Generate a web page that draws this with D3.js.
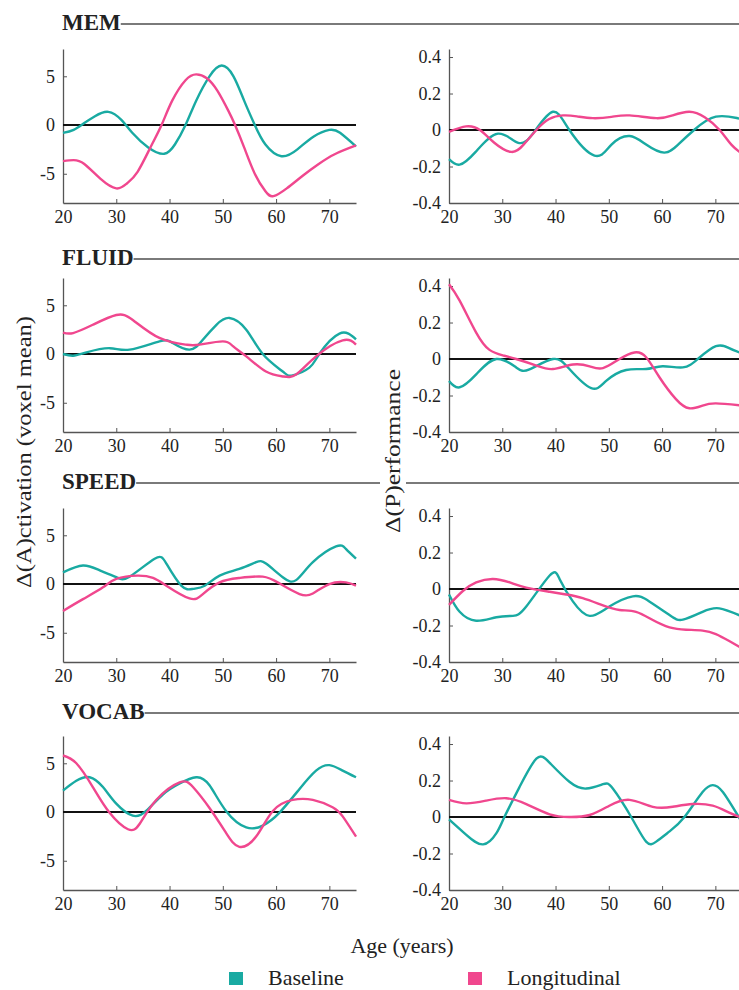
<!DOCTYPE html>
<html>
<head>
<meta charset="utf-8">
<script src="https://cdn.jsdelivr.net/npm/d3@7"></script>
<style>
body { margin: 0; background: #fff; }
svg { display: block; }
text { font-family: "Liberation Serif", "DejaVu Serif", serif; fill: #222; }
</style>
</head>
<body>
<script>
// chart values as [age, value]
var domains = ["MEM", "FLUID", "SPEED", "VOCAB"];
var seriesNames = ["Baseline", "Longitudinal"];
var xTicks = [20, 30, 40, 50, 60, 70];
var actTicks = [-5, 0, 5];
var perfTicks = [-0.4, -0.2, 0, 0.2, 0.4];

var memActBase = [[20,-0.8],[22,-0.5],[24,0.2],[26,0.9],[28.5,1.35],[31,0.5],[33,-0.8],[36,-2.3],[39,-2.95],[41,-2.0],[43,0],[45,2.5],[47.5,5.0],[49.8,6.1],[52,5.0],[54,2.5],[56,0],[58,-2.0],[61,-3.2],[64,-2.5],[67,-1.2],[70,-0.5],[72,-0.8],[75,-2.2]];
var memActLong = [[20,-3.7],[22,-3.6],[24,-4.0],[27,-5.5],[30,-6.5],[32,-6.0],[34,-4.8],[36.5,-2.2],[38.5,0],[40.5,2.5],[43,4.6],[45,5.2],[47,4.8],[49,3.5],[51,1.5],[52.3,0],[54,-2.3],[56,-5.0],[58,-6.8],[59.5,-7.3],[62,-6.5],[65,-5.2],[68,-4.0],[71,-3.0],[75,-2.1]];
var memPerfBase = [[20,-0.16],[22,-0.19],[25,-0.12],[29.2,-0.02],[33,-0.07],[36,-0.01],[39.5,0.10],[42.6,0],[47.3,-0.14],[50.5,-0.08],[53.9,-0.033],[57,-0.08],[60.4,-0.124],[63,-0.08],[66,0],[70.1,0.073],[74.3,0.064],[75,0.065]];
var memPerfLong = [[20,-0.01],[23.2,0.02],[25.8,0],[28.5,-0.07],[31.7,-0.12],[34,-0.08],[36.4,0],[38.8,0.06],[41.4,0.08],[44,0.075],[47,0.065],[50.5,0.072],[53.9,0.08],[58.9,0.065],[62,0.08],[65.1,0.10],[68,0.07],[70.8,0],[73,-0.08],[75,-0.13]];

var fluidActBase = [[20,0],[21.9,-0.17],[24.4,0.17],[28.75,0.6],[32.5,0.45],[38.1,1.3],[40.6,1.13],[43.75,0.45],[46.25,1.47],[48.8,3.0],[51.25,3.7],[54.4,2.5],[57.5,0],[61.25,-1.8],[63.1,-2.2],[66.25,-1.4],[68.1,0],[71.9,2.1],[75,1.5]];
var fluidActLong = [[20,2.2],[21.9,2.15],[25.6,3.0],[30,4.0],[33.1,3.5],[38.1,1.65],[43.1,0.96],[45.6,0.96],[50,1.3],[51.9,0.8],[54.4,-0.24],[58.1,-1.8],[61.25,-2.3],[63.75,-2.1],[67.5,-0.24],[72.5,1.4],[75,0.96]];
var fluidPerfBase = [[20,-0.12],[22,-0.155],[25.1,-0.084],[28.9,0],[32.6,-0.046],[35.1,-0.057],[39.5,0],[42.6,-0.055],[46.7,-0.16],[49.5,-0.12],[53.25,-0.06],[57,-0.055],[60.1,-0.04],[63.9,-0.046],[66.7,0],[70.1,0.07],[72.6,0.06],[75,0.03]];
var fluidPerfLong = [[20,0.41],[22,0.32],[25.1,0.145],[27.6,0.05],[30.1,0.02],[32.6,0],[36.4,-0.036],[39.5,-0.055],[43.25,-0.03],[46.4,-0.04],[48.9,-0.05],[52,0],[54.8,0.036],[57,0.01],[59.5,-0.10],[62.6,-0.22],[65.1,-0.27],[67.6,-0.255],[70.1,-0.243],[75,-0.255]];

var speedActBase = [[20,1.2],[23.75,1.9],[26.9,1.4],[30,0.7],[32.5,0.76],[37.2,2.6],[39.4,2.1],[42.2,-0.17],[44.4,-0.5],[46.6,-0.17],[49.4,0.86],[53.1,1.55],[56.25,2.24],[58.1,2.1],[61.25,0.7],[63.75,0.4],[66.9,2.24],[71.25,3.86],[73.1,3.6],[75,2.6]];
var speedActLong = [[20,-2.76],[23.75,-1.55],[27.5,-0.34],[30,0.52],[34,0.86],[36.9,0.62],[39.4,-0.17],[43.75,-1.48],[46.25,-1.03],[49.4,0.17],[53.1,0.62],[57.5,0.76],[60.6,0.07],[64.4,-1.03],[66.9,-0.97],[70,0],[73.1,0.17],[75,-0.17]];
var speedPerfBase = [[20,-0.03],[22,-0.125],[25.1,-0.174],[28.9,-0.155],[32,-0.147],[34.5,-0.096],[38.9,0.074],[40.75,0.055],[43.25,-0.068],[46.4,-0.147],[50.1,-0.096],[54.5,-0.04],[57.6,-0.068],[61.4,-0.143],[63.9,-0.168],[67.6,-0.125],[70.75,-0.106],[75,-0.15]];
var speedPerfLong = [[20,-0.087],[22.6,-0.011],[25.1,0.036],[28.25,0.055],[31.4,0.036],[34.5,0.008],[38.9,-0.015],[42,-0.03],[45.1,-0.05],[48.9,-0.09],[52,-0.115],[55.1,-0.125],[58.25,-0.17],[61.4,-0.21],[64.5,-0.223],[67.6,-0.228],[70.1,-0.247],[72.6,-0.285],[75,-0.325]];

var vocabActBase = [[20,2.2],[22.5,3.2],[25,3.57],[27.5,2.56],[30,0.86],[33.1,-0.38],[35.6,0.11],[38.75,1.8],[41.9,2.93],[45,3.57],[47.5,2.74],[50.6,0.11],[54.4,-1.58],[57.5,-1.39],[60.6,-0.08],[64.4,2.37],[67.5,4.25],[70,4.81],[72.5,4.25],[75,3.57]];
var vocabActLong = [[20,5.8],[22.5,5.0],[25.6,2.56],[28.75,-0.08],[32.2,-1.77],[34.4,-1.2],[37.5,1.24],[41.9,3.05],[44.4,2.56],[47.5,0.41],[50.6,-2.14],[53.1,-3.57],[56.25,-2.52],[59.4,0.11],[63.1,1.24],[66.9,1.24],[70.6,0.49],[72.5,-0.45],[75,-2.52]];
var vocabPerfBase = [[20,-0.013],[23.25,-0.098],[26.4,-0.15],[28.9,-0.088],[30.4,0],[33.25,0.165],[36.4,0.32],[38.9,0.297],[42.6,0.193],[45.75,0.156],[48.9,0.18],[50.75,0.156],[54.2,0],[57,-0.135],[58.9,-0.135],[61.4,-0.079],[64.2,0],[67.6,0.137],[69.5,0.175],[71.4,0.137],[75,-0.03]];
var vocabPerfLong = [[20,0.094],[23.25,0.075],[27,0.09],[30.75,0.103],[34.5,0.071],[38.9,0.015],[42.6,0],[46.4,0.011],[50.1,0.062],[53.9,0.094],[58.25,0.056],[62,0.056],[65.75,0.071],[69.5,0.062],[72.6,0.024],[75,-0.005]];

var actSeries = [[memActBase, memActLong], [fluidActBase, fluidActLong], [speedActBase, speedActLong], [vocabActBase, vocabActLong]];
var perfSeries = [[memPerfBase, memPerfLong], [fluidPerfBase, fluidPerfLong], [speedPerfBase, speedPerfLong], [vocabPerfBase, vocabPerfLong]];

// layout
var W = 739, H = 990;
var colors = ["#19aaa2", "#f0478e"];
var rowBottom = [203, 432, 662, 890],
    titleLine = [24, 259, 483, 713],
    panelH = 154;

var svg = d3.select("body").append("svg")
    .attr("width", W)
    .attr("height", H);

var line_gen = d3.line()
    .x(function (d) { return d[0]; })
    .y(function (d) { return d[1]; })
    .curve(d3.curveNatural);

function fmt_perf(d) {
    return d === 0 ? "0" : d.toFixed(1);
}

function draw_panel(parent, left, bottom, yDomain, yTicks, yFmt, series) {
    var x = d3.scaleLinear().domain([20, 75]).range([left, left + 293]),
        y = d3.scaleLinear().domain(yDomain).range([bottom, bottom - panelH]);
    var g = parent.append("g");

    var xa = g.append("g")
        .attr("transform", "translate(0," + bottom + ")")
        .call(d3.axisBottom(x).tickValues(xTicks).tickSize(-4).tickSizeOuter(0).tickPadding(7));
    var ya = g.append("g")
        .attr("transform", "translate(" + left + ",0)")
        .call(d3.axisLeft(y).tickValues(yTicks).tickFormat(yFmt).tickSize(-4).tickSizeOuter(0).tickPadding(8));
    [xa, ya].forEach(function (a) {
        a.select(".domain").attr("stroke", "#555").attr("stroke-width", 1.3);
        a.selectAll(".tick line").attr("stroke", "#555");
        a.selectAll(".tick text")
            .attr("font-size", 18)
            .attr("fill", "#222");
    });

    // zero reference
    g.append("line")
        .attr("x1", x(20)).attr("x2", x(75))
        .attr("y1", y(0)).attr("y2", y(0))
        .attr("stroke", "#111")
        .attr("stroke-width", 2);

    series.forEach(function (s, i) {
        g.append("path")
            .attr("d", line_gen(s.map(function (p) { return [x(p[0]), y(p[1])]; })))
            .attr("fill", "none")
            .attr("stroke", colors[i])
            .attr("stroke-width", 2.4);
    });
}

domains.forEach(function (name, r) {
    // section title with rule to the right edge
    var t = svg.append("text")
        .attr("x", 62)
        .attr("y", titleLine[r] + 6)
        .attr("font-size", 23)
        .attr("font-weight", "bold")
        .attr("fill", "#111")
        .text(name);
    var tw = t.node().getComputedTextLength();
    svg.append("line")
        .attr("x1", 62 + tw).attr("x2", W)
        .attr("y1", titleLine[r]).attr("y2", titleLine[r])
        .attr("stroke", "#7a7a7a")
        .attr("stroke-width", 1.8);

    draw_panel(svg, 63, rowBottom[r], [-8, 7.8], actTicks, function (d) { return String(d); }, actSeries[r]);
    draw_panel(svg, 449, rowBottom[r], [-0.4, 0.444], perfTicks, fmt_perf, perfSeries[r]);
});

// y labels
svg.append("text")
    .attr("transform", "translate(31,452) rotate(-90)")
    .attr("text-anchor", "middle")
    .attr("font-size", 22)
    .attr("textLength", 272)
    .attr("lengthAdjust", "spacingAndGlyphs")
    .text("\u0394(A)ctivation (voxel mean)");

var pl = svg.append("g").attr("transform", "translate(400,451) rotate(-90)");
pl.append("rect")
    .attr("x", -88).attr("y", -20)
    .attr("width", 176).attr("height", 26)
    .attr("fill", "#fff");
pl.append("text")
    .attr("text-anchor", "middle")
    .attr("font-size", 22)
    .attr("textLength", 164)
    .attr("lengthAdjust", "spacingAndGlyphs")
    .text("\u0394(P)erformance");

// x label
svg.append("text")
    .attr("x", 402)
    .attr("y", 953)
    .attr("text-anchor", "middle")
    .attr("font-size", 22)
    .text("Age (years)");

// legend
var legX = [229, 468];
seriesNames.forEach(function (n, i) {
    svg.append("rect")
        .attr("x", legX[i]).attr("y", 972)
        .attr("width", 14).attr("height", 13)
        .attr("fill", colors[i]);
    svg.append("text")
        .attr("x", legX[i] + 39)
        .attr("y", 985)
        .attr("font-size", 22)
        .text(n);
});
</script>
</body>
</html>
